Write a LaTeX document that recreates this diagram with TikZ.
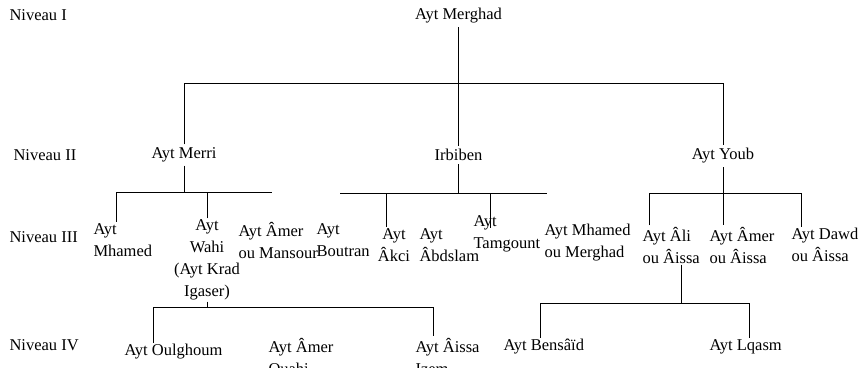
\documentclass[tikz,border=0pt]{standalone}
\usepackage{fontspec}
\setmainfont{Liberation Serif}
\usetikzlibrary{calc}

\begin{document}
\begin{tikzpicture}[x=1pt,y=-1pt,line width=1pt,
    every node/.style={font=\fontsize{16.5}{22}\selectfont,inner sep=1pt},
    lvl/.style={anchor=west},
    clan/.style={anchor=west,align=left},
    tribe/.style={align=center,inner sep=3pt}]
\useasboundingbox (0,0) rectangle (864,367);

% niveaux
\node[lvl] (n1) at (8,15) {Niveau I};
\node[lvl] (n2) at (12,155) {Niveau II};
\node[lvl] (n3) at (8,237) {Niveau III};
\node[lvl] (n4) at (8,345) {Niveau IV};

\node[tribe] (merghad) at (458.5,16) {Ayt Merghad};
\node[tribe] (merri) at (184,155) {Ayt Merri};
\node[tribe] (irbiben) at (458.5,155) {Irbiben};
\node[tribe] (youb) at (723,156) {Ayt Youb};

\node[clan] (mhamed) at (92,240) {Ayt\\Mhamed};
\node[align=center] (wahi) at (207,260) {Ayt\\Wahi\\(Ayt Krad\\Igaser)};
\node[clan] (amerM) at (237,240) {Ayt Âmer\\ou Mansour};
\node[clan] (boutran) at (315,240) {Ayt\\Boutran};
\node[align=center] (akci) at (394,245) {Ayt\\Âkci};
\node[clan] (abdslam) at (418,245) {Ayt\\Âbdslam};
\node[clan] (tamgount) at (472,234) {Ayt\\Tamgount};
\node[clan] (mhamedM) at (543,243) {Ayt Mhamed\\ou Merghad};
\node[clan] (ali) at (641,245) {Ayt Âli\\ou Âissa};
\node[clan] (amerA) at (708,245) {Ayt Âmer\\ou Âissa};
\node[clan] (dawd) at (790,245) {Ayt Dawd\\ou Âissa};

\node[clan] (oulghoum) at (123,352) {Ayt Oulghoum};
\node[clan] (amerO) at (267,356) {Ayt Âmer\\Ouahi};
\node[clan] (aissa) at (414,356) {Ayt Âissa\\Izem};
\node[clan] (bensaid) at (502,347) {Ayt Bensâïd};
\node[clan] (lqasm) at (708,347) {Ayt Lqasm};

% niveau I -> II
\coordinate (barI) at (0,83);
\draw (merghad.south) -- (irbiben.north);
\draw (merri.north) -- (merri.north |- barI) -- (youb.north |- barI) -- (youb.north);

% Ayt Merri
\coordinate (barM) at (116,192);
\coordinate (barMe) at (272,192);
\draw (merri.south) -- (merri.south |- barM);
\draw (barM |- mhamed.north) -- (barM) -- (barMe);
\draw (wahi.north) -- (wahi.north |- barM);

% Irbiben
\coordinate (barR) at (340,193);
\coordinate (barRe) at (547,193);
\coordinate (dK) at (386,193);
\coordinate (dT) at (490,193);
\draw (irbiben.south) -- (irbiben.south |- barR);
\draw (barR) -- (barRe);
\draw (dK) -- (dK |- akci.north);
\draw (dT) -- ($(dT |- tamgount.north)+(0,14)$);

% Ayt Youb
\coordinate (barY) at (649,193);
\coordinate (barYe) at (801,193);
\draw (youb.south) -- (youb.south |- amerA.north);
\draw (barY |- ali.north) -- (barY) -- (barYe) -- (barYe |- dawd.north);

% Ayt Wahi
\coordinate (barW) at (153,307);
\coordinate (barWe) at (433,307);
\draw (wahi.south) -- (wahi.south |- barW);
\draw (barW |- oulghoum.north) -- (barW) -- (barWe) -- (barWe |- aissa.north);

% Ayt Ali ou Aissa
\coordinate (barA) at (540,303);
\coordinate (barAe) at (749,303);
\coordinate (stA) at (681,303);
\draw (stA |- ali.south) -- (stA);
\draw (barA |- bensaid.north) -- (barA) -- (barAe) -- (barAe |- lqasm.north);
\end{tikzpicture}
\end{document}
